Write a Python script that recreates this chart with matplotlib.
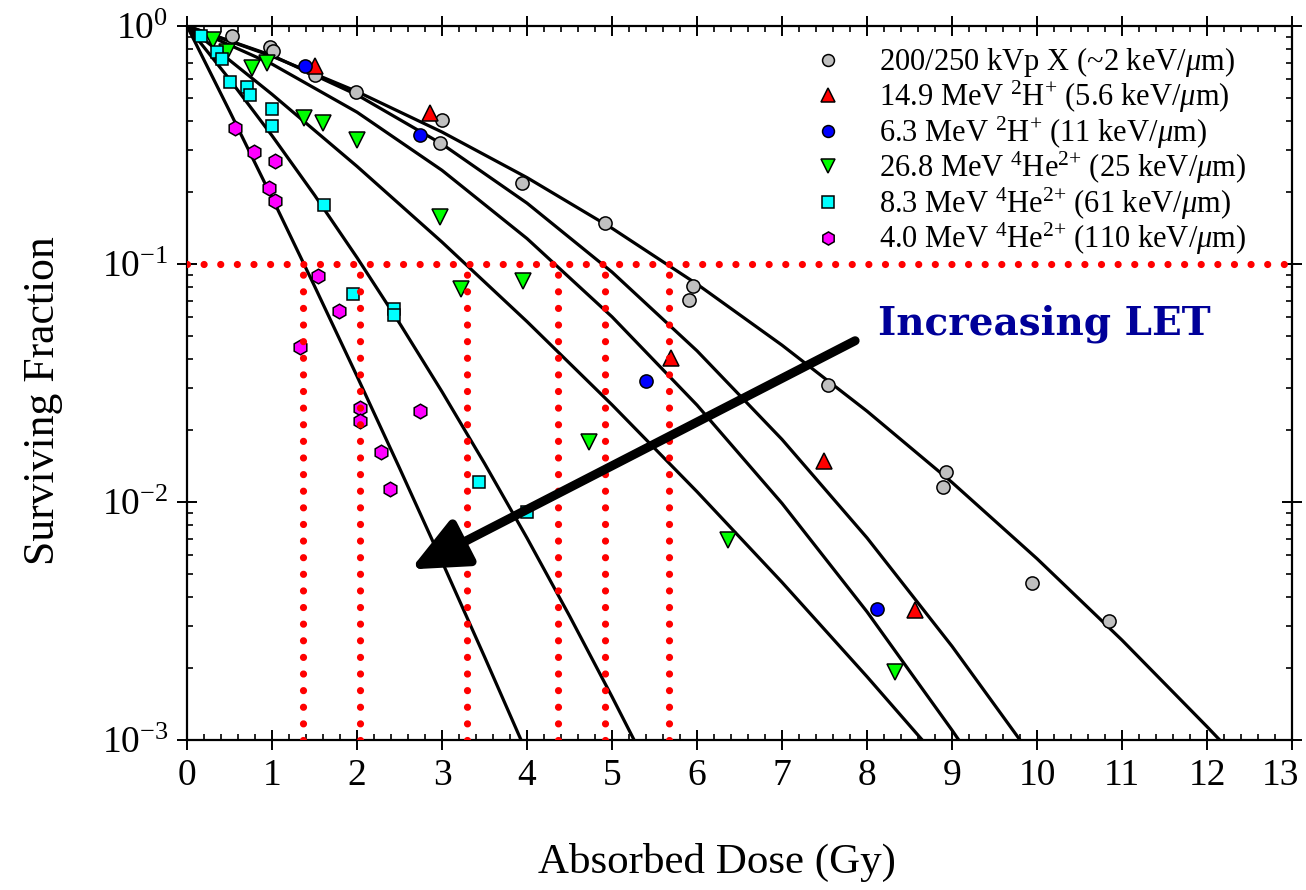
import matplotlib
matplotlib.use("Agg")
import matplotlib.pyplot as plt
from matplotlib.ticker import AutoMinorLocator, LogLocator, NullFormatter
from matplotlib.transforms import ScaledTranslation

plt.rcParams['font.family'] = 'Liberation Serif'
plt.rcParams['mathtext.fontset'] = 'custom'
plt.rcParams['mathtext.rm'] = 'Liberation Serif'
plt.rcParams['mathtext.it'] = 'Liberation Serif:italic'
plt.rcParams['mathtext.bf'] = 'Liberation Serif:bold'
plt.rcParams['axes.unicode_minus'] = False

# measured survival points (dose in Gy, surviving fraction)
xray_dose = [0.53, 0.98, 1.01, 1.51, 1.99, 3.0, 2.98, 3.94, 4.92, 5.95, 5.90, 7.54, 8.93, 8.89, 9.94, 10.85]
xray_sf = [0.908, 0.82, 0.785, 0.622, 0.526, 0.403, 0.323, 0.219, 0.149, 0.081, 0.0706, 0.031, 0.0134, 0.0116, 0.00457, 0.00316]

d149_dose = [1.51, 2.86, 5.69, 7.49, 8.56]
d149_sf = [0.681, 0.43, 0.0402, 0.0149, 0.00352]

d63_dose = [1.39, 2.74, 5.40, 8.12]
d63_sf = [0.68, 0.348, 0.0323, 0.00355]

he268_dose = [0.31, 0.47, 0.76, 0.945, 1.376, 1.60, 2.0, 2.98, 3.22, 3.95, 4.73, 6.36, 8.33]
he268_sf = [0.873, 0.776, 0.664, 0.701, 0.412, 0.392, 0.332, 0.157, 0.0783, 0.0851, 0.0178, 0.0069, 0.00193]

he83_dose = [0.16, 0.35, 0.41, 0.50, 0.70, 0.74, 1.0, 1.0, 1.61, 1.95, 2.44, 2.44, 3.43, 4.0]
he83_sf = [0.908, 0.776, 0.727, 0.58, 0.556, 0.513, 0.448, 0.38, 0.177, 0.0748, 0.0645, 0.061, 0.0121, 0.0091]

he40_dose = [0.56, 0.79, 1.03, 0.96, 1.03, 1.545, 1.79, 1.33, 2.04, 2.04, 2.28, 2.74, 2.39]
he40_sf = [0.372, 0.296, 0.27, 0.208, 0.184, 0.0891, 0.0635, 0.0447, 0.0249, 0.0219, 0.0163, 0.0241, 0.0113]

# fitted curves
fit_xray_dose = [0, 1, 2, 3, 4, 5, 6, 7, 8, 9, 10, 11, 12, 12.15]
fit_xray_sf = [1, 0.7465, 0.5303, 0.3585, 0.2307, 0.1413, 0.0823, 0.0456, 0.02408, 0.01209, 0.00578, 0.002628, 0.001138, 0.001]
fit_d149_dose = [0, 1, 2, 3, 4, 5, 6, 7, 8, 9, 9.8]
fit_d149_sf = [1, 0.7517, 0.5136, 0.3191, 0.1802, 0.0925, 0.04317, 0.01832, 0.00707, 0.002477, 0.001]
fit_d63_dose = [0, 1, 2, 3, 4, 5, 6, 7, 8, 9, 9.08]
fit_d63_sf = [1, 0.6918, 0.4344, 0.2475, 0.1279, 0.0600, 0.02554, 0.00987, 0.003458, 0.0011, 0.001]
fit_he268_dose = [0, 1, 2, 3, 4, 5, 6, 7, 8, 8.65]
fit_he268_sf = [1, 0.5164, 0.2572, 0.1236, 0.05728, 0.02561, 0.01105, 0.0046, 0.001846, 0.001]
fit_he83_dose = [0, 0.5, 1, 1.5, 2, 2.5, 3, 3.5, 4, 4.5, 5, 5.26]
fit_he83_sf = [1, 0.5971, 0.3461, 0.1948, 0.1064, 0.05644, 0.02906, 0.01453, 0.007058, 0.003323, 0.00152, 0.001]
fit_he40_dose = [0, 0.5, 1, 1.5, 2, 2.5, 3, 3.5, 3.93]
fit_he40_sf = [1, 0.4394, 0.1899, 0.08076, 0.03377, 0.01389, 0.00562, 0.002238, 0.001]

# dose giving 10% survival for each curve
d10_values = [1.36, 2.03, 3.29, 4.36, 4.92, 5.67]

labels = [
    '200/250 kVp X (~2 keV/$\\mu$m)',
    '14.9 MeV $^{2}$H$^{{+}}$ (5.6 keV/$\\mu$m)',
    '6.3 MeV $^{2}$H$^{{+}}$ (11 keV/$\\mu$m)',
    '26.8 MeV $^{4}$He$^{2{+}}$ (25 keV/$\\mu$m)',
    '8.3 MeV $^{4}$He$^{2{+}}$ (61 keV/$\\mu$m)',
    '4.0 MeV $^{4}$He$^{2{+}}$ (110 keV/$\\mu$m)',
]

fig = plt.figure(figsize=(13.06, 8.9), dpi=100)
ax = fig.add_axes([0.1432, 0.1685, 0.8461, 0.8023])

# fit curves
for xs, ys in [(fit_xray_dose, fit_xray_sf), (fit_d149_dose, fit_d149_sf), (fit_d63_dose, fit_d63_sf),
               (fit_he268_dose, fit_he268_sf), (fit_he83_dose, fit_he83_sf), (fit_he40_dose, fit_he40_sf)]:
    ax.plot(xs, ys, color='black', lw=2.3, zorder=2)

# data points
mk = dict(ls='none', mec='black', mew=1.1, zorder=3)
ax.plot(xray_dose, xray_sf, marker='o', ms=9.5, mfc='#c0c0c0', label=labels[0], **mk)
ax.plot(d149_dose, d149_sf, marker='^', ms=11, mfc='#ff0000', label=labels[1], **mk)
ax.plot(d63_dose, d63_sf, marker='o', ms=9.5, mfc='#0000ff', label=labels[2], **mk)
ax.plot(he268_dose, he268_sf, marker='v', ms=11, mfc='#00ff00', label=labels[3], **mk)
ax.plot(he83_dose, he83_sf, marker='s', ms=9, mfc='#00ffff', label=labels[4], **mk)
ax.plot(he40_dose, he40_sf, marker='h', ms=10.5, mfc='#ff00ff', label=labels[5], **mk)

# red dotted guides
dots = dict(color='#ff0000', lw=5.2, ls=(0, (0.001, 2.3)), dash_capstyle='round', zorder=4)
ax.plot([0, 13], [0.1, 0.1], **dots)
for d in d10_values:
    ax.plot([d, d], [0.001, 0.1], **dots)

# arrow
ax.annotate('', xy=(2.63, 0.00521), xytext=(7.86, 0.0476),
            arrowprops=dict(arrowstyle='-|>,head_length=1.0,head_width=0.45', mutation_scale=34,
                            lw=6.5, color='black', shrinkA=0, shrinkB=0), zorder=6)
ax.text(0.6253, 0.5686, 'Increasing LET', transform=ax.transAxes, family='DejaVu Serif',
        fontweight='bold', fontsize=28, color='#000099', ha='left', va='baseline', zorder=6)

ax.set_yscale('log')
ax.set_xlim(0, 13)
ax.set_ylim(0.001, 1)
ax.set_xticks(range(0, 14))
ax.xaxis.set_minor_locator(AutoMinorLocator(5))
ax.yaxis.set_minor_locator(LogLocator(base=10, subs=range(2, 10)))
ax.yaxis.set_minor_formatter(NullFormatter())

ax.tick_params(which='major', direction='inout', length=15, width=1.4, top=True, right=True,
               labelsize=27, pad=6)
ax.tick_params(which='minor', direction='in', length=4.5, width=1.2, top=True, right=True)
for s in ax.spines.values():
    s.set_linewidth(1.6)

# keep the last x label inside the figure
fig.canvas.draw()
last = ax.get_xticklabels()[-1]
last.set_transform(last.get_transform() + ScaledTranslation(-12 / 100, 0, fig.dpi_scale_trans))

ax.set_xlabel('Absorbed Dose (Gy)', fontsize=31, labelpad=36)
ax.xaxis.label.set_x(0.4796)
ax.set_ylabel('Surviving Fraction', fontsize=31.5, labelpad=28)
ax.yaxis.label.set_y(0.476)

ax.legend(loc='upper left', bbox_to_anchor=(0.554, 0.99), frameon=False, fontsize=22,
          handlelength=1.1, handletextpad=1.1, labelspacing=-0.02, borderaxespad=0, markerscale=0.9)

fig.savefig('out.png', dpi=100)
